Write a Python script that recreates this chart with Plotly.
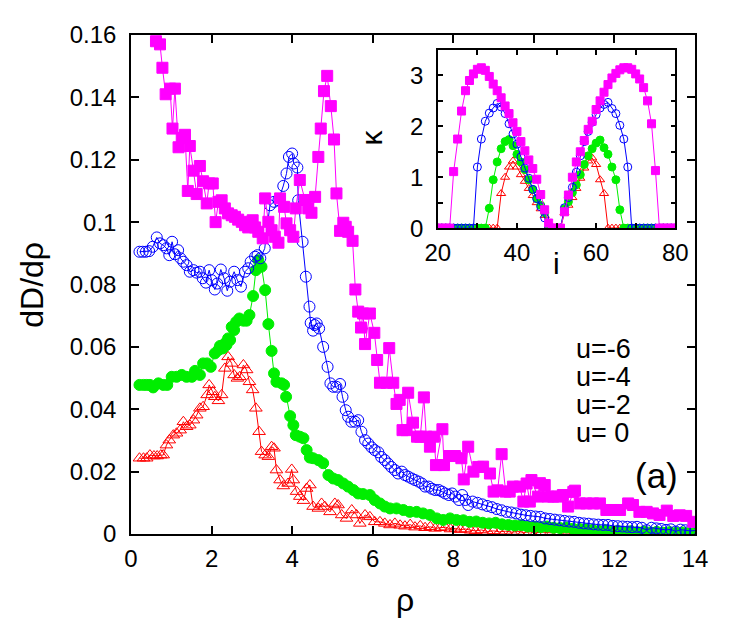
import plotly.graph_objects as go

# ------------------------------------------------------------
# main panel: dD/drho vs rho
# ------------------------------------------------------------
rho_u6 = [0.62, 0.72, 0.78, 0.86, 0.97, 1.03, 1.09, 1.18, 1.26, 1.34, 1.41, 1.46, 1.55, 1.63, 1.71,
          1.79, 1.88, 1.94, 2.03, 2.10, 2.17, 2.25, 2.33, 2.41, 2.50, 2.58, 2.66, 2.75, 2.83, 2.91,
          3.02, 3.08, 3.16, 3.27, 3.33, 3.41, 3.49, 3.57, 3.66, 3.70, 3.80, 3.86, 3.95, 4.03, 4.09,
          4.19, 4.32, 4.40, 4.48, 4.57, 4.65, 4.71, 4.79, 4.87, 4.96, 5.04, 5.10, 5.19, 5.27, 5.33,
          5.39, 5.50, 5.57, 5.64, 5.71, 5.76, 5.81, 5.93, 6.04, 6.11, 6.18, 6.34, 6.41, 6.51, 6.59,
          6.67, 6.74, 6.84, 6.88, 7.00, 7.10, 7.18, 7.27, 7.33, 7.42, 7.52, 7.57, 7.73, 7.77, 7.90,
          8.04, 8.20, 8.26, 8.37, 8.50, 8.62, 8.74, 8.91, 9.00, 9.10, 9.20, 9.30, 9.40, 9.48, 9.65,
          9.74, 9.82, 9.90, 9.94, 10.10, 10.15, 10.27, 10.35, 10.48, 10.60, 10.72, 10.85, 10.98, 11.02,
          11.14, 11.30, 11.47, 11.64, 11.80, 11.97, 12.14, 12.34, 12.46, 12.62, 12.80, 12.96, 13.12,
          13.30, 13.46, 13.62, 13.78, 13.96]
dD_u6 = [0.158, 0.157, 0.1495, 0.141, 0.1428, 0.130, 0.1428, 0.124, 0.127, 0.128, 0.110, 0.1244, 0.1165,
         0.109, 0.118, 0.1131, 0.106, 0.1124, 0.1124, 0.100, 0.1065, 0.107, 0.1044, 0.1028, 0.1022,
         0.1017, 0.1008, 0.1001, 0.0990, 0.0983, 0.1006, 0.0983, 0.0969, 0.0948, 0.1076, 0.1001, 0.0974,
         0.0953, 0.0934, 0.1076, 0.1049, 0.0996, 0.0974, 0.0953, 0.1044, 0.1135, 0.1071, 0.1044, 0.1030,
         0.1081, 0.1209, 0.130, 0.142, 0.1469, 0.1372, 0.1265, 0.1092, 0.0972, 0.0998, 0.0985, 0.0969,
         0.094, 0.0784, 0.0713, 0.0662, 0.0707, 0.0609, 0.0707, 0.0645, 0.0558, 0.0485, 0.0485, 0.0596,
         0.0485, 0.0417, 0.043, 0.0333, 0.0333, 0.0453, 0.0357, 0.0312, 0.0312, 0.0438, 0.0312, 0.028,
         0.0312, 0.0221, 0.0336, 0.0221, 0.025, 0.025, 0.0243, 0.0175, 0.028, 0.0200, 0.0215, 0.0216,
         0.0194, 0.0136, 0.0140, 0.0256, 0.0136, 0.0136, 0.0152, 0.0152, 0.0104, 0.0162, 0.0104, 0.0173,
         0.0120, 0.0163, 0.0157, 0.0120, 0.0120, 0.0120, 0.0125, 0.0088, 0.0135, 0.0139, 0.0098, 0.0098,
         0.0098, 0.0098, 0.0077, 0.0077, 0.0077, 0.0098, 0.0093, 0.0071, 0.0071, 0.0066, 0.0061, 0.0075,
         0.0058, 0.0060, 0.0058, 0.0039]

rho_u4 = [0.21, 0.29, 0.37, 0.45, 0.54, 0.64, 0.72, 0.80, 0.88, 0.95, 1.02, 1.09, 1.17, 1.23, 1.30,
          1.38, 1.46, 1.55, 1.63, 1.71, 1.78, 1.86, 1.94, 2.00, 2.08, 2.14, 2.23, 2.31, 2.39, 2.46,
          2.56, 2.64, 2.73, 2.83, 2.91, 2.97, 3.08, 3.14, 3.21, 3.32, 3.37, 3.45, 3.55, 3.66, 3.78,
          3.86, 3.92, 4.00, 4.04, 4.13, 4.15, 4.26, 4.34, 4.43, 4.46, 4.52, 4.56, 4.61, 4.67, 4.77,
          4.88, 4.95, 5.02, 5.10, 5.19, 5.25, 5.33, 5.39, 5.47, 5.56, 5.64, 5.72, 5.81, 5.89, 5.97,
          6.05, 6.14, 6.21, 6.30, 6.38, 6.46, 6.55, 6.63, 6.72, 6.80, 6.88, 6.97, 7.05, 7.14, 7.22,
          7.30, 7.39, 7.47, 7.55, 7.64, 7.72, 7.80, 7.89, 7.97, 8.05, 8.14, 8.22, 8.30, 8.37, 8.48,
          8.60, 8.72, 8.84, 8.96, 9.08, 9.20, 9.32, 9.44, 9.56, 9.68, 9.80, 9.92, 10.04, 10.16, 10.28,
          10.40, 10.52, 10.64, 10.76, 10.88, 11.00, 11.12, 11.24, 11.36, 11.48, 11.60, 11.72, 11.84,
          11.96, 12.08, 12.20, 12.32, 12.44, 12.56, 12.68, 12.80, 12.92, 13.04, 13.16, 13.28, 13.40,
          13.52, 13.64, 13.76, 13.88, 14.00]
dD_u4 = [0.0905, 0.0905, 0.0905, 0.0907, 0.0921, 0.0951, 0.0932, 0.0926, 0.0916, 0.0894, 0.0937, 0.0897,
         0.0910, 0.0884, 0.0873, 0.0862, 0.0841, 0.0846, 0.0838, 0.0841, 0.0820, 0.0806, 0.0846, 0.0814,
         0.0784, 0.0803, 0.0848, 0.0820, 0.0780, 0.0809, 0.0841, 0.0814, 0.0793, 0.0841, 0.0852, 0.0873,
         0.0889, 0.0894, 0.0884, 0.0916, 0.0974, 0.1054, 0.1065, 0.1070, 0.1116, 0.1156, 0.1209, 0.1220,
         0.1188, 0.1175, 0.1070, 0.0937, 0.0825, 0.0729, 0.0677, 0.0652, 0.0670, 0.0675, 0.0659, 0.0600,
         0.0536, 0.0483, 0.0472, 0.0472, 0.0481, 0.0440, 0.0397, 0.0376, 0.0360, 0.0360, 0.0365, 0.0328,
         0.0301, 0.0290, 0.0278, 0.0269, 0.0262, 0.0247, 0.0237, 0.0226, 0.0215, 0.0205, 0.0194, 0.0200,
         0.0189, 0.0184, 0.0178, 0.0173, 0.0168, 0.0162, 0.0152, 0.0152, 0.0145, 0.0141, 0.0141, 0.0136,
         0.0130, 0.0125, 0.0130, 0.0120, 0.0109, 0.0125, 0.0109, 0.0093, 0.0104, 0.0100, 0.0095, 0.0090,
         0.0086, 0.0080, 0.0076, 0.0071, 0.0069, 0.0066, 0.0062, 0.0060, 0.0058, 0.0056, 0.0055, 0.0050,
         0.0048, 0.0046, 0.0044, 0.0042, 0.0040, 0.0039, 0.0036, 0.0034, 0.0033, 0.0031, 0.0030, 0.0029,
         0.0029, 0.0026, 0.0025, 0.0024, 0.0023, 0.0022, 0.0023, 0.0020, 0.0012, 0.0020, 0.0018, 0.0016,
         0.0013, 0.0015, 0.0008, 0.0014, 0.0012, 0.0010, 0.0011]

rho_u2 = [0.21, 0.31, 0.39, 0.47, 0.55, 0.68, 0.80, 0.90, 1.01, 1.13, 1.26, 1.38, 1.51, 1.59, 1.71,
          1.79, 1.89, 1.98, 2.08, 2.17, 2.21, 2.28, 2.33, 2.37, 2.41, 2.46, 2.50, 2.56, 2.61, 2.69,
          2.79, 2.87, 2.94, 3.03, 3.10, 3.16, 3.24, 3.33, 3.41, 3.49, 3.55, 3.61, 3.74, 3.80, 3.85,
          3.95, 4.03, 4.09, 4.19, 4.28, 4.36, 4.44, 4.52, 4.65, 4.77, 4.90, 5.02, 5.14, 5.27, 5.39,
          5.52, 5.64, 5.76, 5.93, 6.05, 6.18, 6.30, 6.43, 6.59, 6.76, 6.92, 7.09, 7.25, 7.42, 7.59,
          7.75, 7.92, 8.08, 8.25, 8.41, 8.57, 8.73, 8.89, 9.05, 9.21, 9.37, 9.53, 9.69, 9.85, 10.01,
          10.17, 10.33, 10.49, 10.65, 10.81, 10.97, 11.13, 11.29, 11.45, 11.61, 11.77, 11.93, 12.09,
          12.25, 12.41, 12.57, 12.73, 12.89, 13.05, 13.21, 13.37, 13.53, 13.69, 13.85, 14.00]
dD_u2 = [0.0478, 0.0478, 0.0478, 0.0478, 0.0470, 0.0483, 0.0478, 0.0478, 0.0504, 0.0504, 0.0510, 0.0504,
         0.0504, 0.0523, 0.0510, 0.0547, 0.0547, 0.0536, 0.0579, 0.0590, 0.0603, 0.0595, 0.0611, 0.0606,
         0.0627, 0.0622, 0.0664, 0.0654, 0.0680, 0.0691, 0.0684, 0.0684, 0.0702, 0.0763, 0.0846, 0.0878,
         0.0857, 0.0782, 0.0673, 0.0587, 0.0515, 0.0488, 0.0483, 0.0478, 0.0440, 0.0378, 0.0349, 0.0317,
         0.0312, 0.0307, 0.0269, 0.0245, 0.0243, 0.0237, 0.0227, 0.0189, 0.0178, 0.0173, 0.0162, 0.0152,
         0.0141, 0.0130, 0.0128, 0.0125, 0.0109, 0.0098, 0.0088, 0.0082, 0.0082, 0.0077, 0.0071, 0.0071,
         0.0066, 0.0061, 0.0050, 0.0045, 0.0050, 0.0045, 0.0044, 0.0039, 0.0040, 0.0036, 0.0034, 0.0036,
         0.0031, 0.0029, 0.0027, 0.0028, 0.0024, 0.0023, 0.0022, 0.0024, 0.0020, 0.0019, 0.0021, 0.0017,
         0.0016, 0.0015, 0.0013, 0.0010, 0.0012, 0.0008, 0.0010, 0.0007, 0.0009, 0.0006, 0.0008, 0.0005,
         0.0007, 0.0004, 0.0006, 0.0004, 0.0005, 0.0003, 0.0004]

rho_u0 = [0.21, 0.31, 0.39, 0.47, 0.57, 0.65, 0.74, 0.80, 0.88, 0.95, 1.05, 1.13, 1.22, 1.30, 1.38,
          1.46, 1.55, 1.63, 1.71, 1.79, 1.89, 1.94, 2.03, 2.08, 2.17, 2.25, 2.33, 2.41, 2.50, 2.56,
          2.64, 2.70, 2.79, 2.87, 2.94, 3.02, 3.10, 3.18, 3.24, 3.33, 3.41, 3.49, 3.55, 3.61, 3.70,
          3.78, 3.90, 3.99, 4.03, 4.11, 4.19, 4.28, 4.36, 4.44, 4.52, 4.65, 4.73, 4.81, 4.94, 5.06,
          5.14, 5.23, 5.35, 5.48, 5.60, 5.68, 5.81, 5.93, 6.05, 6.18, 6.30, 6.43, 6.55, 6.68, 6.80,
          6.93, 7.05, 7.18, 7.30, 7.43, 7.55, 7.68, 7.80, 7.93, 8.05, 8.18, 8.30, 8.43, 8.55, 8.70,
          8.85, 9.00, 9.15, 9.30, 9.45, 9.60, 9.75, 9.90, 10.05, 10.20, 10.40, 10.60, 10.80, 11.00,
          11.20, 11.40, 11.60, 11.80, 12.00, 12.20, 12.40, 12.60, 12.80, 13.00, 13.20, 13.40, 13.60,
          13.80, 14.00]
dD_u0 = [0.0243, 0.0243, 0.0243, 0.0253, 0.0250, 0.0250, 0.0253, 0.0253, 0.0285, 0.0301, 0.0317, 0.0323,
         0.0333, 0.0360, 0.0344, 0.0349, 0.0365, 0.0381, 0.0403, 0.0408, 0.0446, 0.0478, 0.0456, 0.0440,
         0.0427, 0.0446, 0.0531, 0.0568, 0.0547, 0.0510, 0.0499, 0.0504, 0.0542, 0.0526, 0.0488, 0.0462,
         0.0403, 0.0328, 0.0264, 0.0253, 0.0248, 0.0280, 0.0275, 0.0205, 0.0173, 0.0154, 0.0162, 0.0207,
         0.0173, 0.0136, 0.0120, 0.0107, 0.0146, 0.0157, 0.0088, 0.0082, 0.0098, 0.0088, 0.0071, 0.0098,
         0.0093, 0.0061, 0.0050, 0.0077, 0.0061, 0.0034, 0.0061, 0.0055, 0.0039, 0.0039, 0.0034, 0.0029,
         0.0034, 0.0028, 0.0025, 0.0030, 0.0022, 0.0026, 0.0020, 0.0023, 0.0018, 0.0020, 0.0022, 0.0016,
         0.0018, 0.0014, 0.0016, 0.0012, 0.0010, 0.0013, 0.0008, 0.0010, 0.0007, 0.0009, 0.0006, 0.0008,
         0.0005, 0.0007, 0.0004, 0.0006, 0.0004, 0.0005, 0.0003, 0.0004, 0.0003, 0.0004, 0.0002, 0.0003,
         0.0002, 0.0003, 0.0002, 0.0003, 0.0002, 0.0002, 0.0003, 0.0002, 0.0002, 0.0001, 0.0002]

# ------------------------------------------------------------
# inset: kappa vs site i
# ------------------------------------------------------------
site_i = [20, 21, 22, 23, 24, 25, 26, 27, 28, 29, 30, 31, 32, 33, 34, 35, 36, 37, 38, 39, 40,
          41, 42, 43, 44, 45, 46, 47, 48, 49, 50, 51, 52, 53, 54, 55, 56, 57, 58, 59, 60,
          61, 62, 63, 64, 65, 66, 67, 68, 69, 70, 71, 72, 73, 74, 75, 76, 77, 78, 79, 80]
kappa_u6 = [0, 0, 0, 0, 1.11, 1.75, 2.3, 2.7, 2.9, 3.03, 3.12, 3.15, 3.1, 2.98, 2.83, 2.7, 2.56, 2.4,
            2.25, 2.07, 1.9, 1.7, 1.52, 1.34, 1.17, 0.96, 0.66, 0.36, 0.1, 0, 0, 0, 0.32, 0.65, 1.0,
            1.3, 1.5, 1.72, 1.94, 2.1, 2.33, 2.5, 2.67, 2.82, 2.95, 3.04, 3.11, 3.15, 3.15, 3.12, 3.03,
            2.93, 2.76, 2.5, 2.05, 1.13, 0, 0, 0, 0, 0]
kappa_u4 = [0, 0, 0, 0, 0, 0, 0, 0, 0, 0, 1.2, 1.75, 2.1, 2.26, 2.36, 2.45, 2.38, 2.25, 2.05, 1.85,
            1.65, 1.4, 1.18, 0.98, 0.76, 0.58, 0.42, 0.2, 0, 0, 0, 0, 0.4, 0.6, 0.8, 1.1, 1.42, 1.7,
            1.9, 2.08, 2.23, 2.36, 2.43, 2.47, 2.35, 2.25, 2.02, 1.75, 1.2, 0, 0, 0, 0, 0, 0, 0, 0,
            0, 0, 0, 0]
kappa_u2 = [0, 0, 0, 0, 0, 0, 0, 0, 0, 0, 0, 0, 0, 0.39, 0.95, 1.3, 1.56, 1.7, 1.74, 1.62, 1.45,
            1.3, 1.15, 0.95, 0.76, 0.58, 0.45, 0.3, 0, 0, 0, 0, 0.38, 0.52, 0.7, 0.85, 1.05, 1.25,
            1.42, 1.56, 1.67, 1.73, 1.58, 1.45, 1.2, 0.95, 0.36, 0, 0, 0, 0, 0, 0, 0, 0, 0, 0, 0,
            0, 0, 0]
kappa_u0 = [0, 0, 0, 0, 0, 0, 0, 0, 0, 0, 0, 0, 0, 0, 0, 0, 0.68, 1.0, 1.2, 1.32, 1.2, 1.05, 0.92,
            0.78, 0.64, 0.5, 0.38, 0.25, 0, 0, 0, 0, 0.3, 0.45, 0.6, 0.78, 0.98, 1.18, 1.32, 1.38,
            1.25, 0.95, 0.68, 0, 0, 0, 0, 0, 0, 0, 0, 0, 0, 0, 0, 0, 0, 0, 0, 0, 0]

legend_labels = ["u=-6", "u=-4", "u=-2", "u= 0"]
main_xticks = [0, 2, 4, 6, 8, 10, 12, 14]
main_yticks = [0, 0.02, 0.04, 0.06, 0.08, 0.1, 0.12, 0.14, 0.16]
inset_xticks = [20, 30, 40, 50, 60, 70, 80]
inset_xtext = ["20", "", "40", "", "60", "", "80"]
inset_yticks = [0, 0.5, 1, 1.5, 2, 2.5, 3, 3.5]
inset_ytext = ["0", "", "1", "", "2", "", "3", ""]

FONT = "Liberation Sans, Arial, Helvetica, sans-serif"

# bottom -> top: red, green, blue, magenta
series = [
    (rho_u0, dD_u0, kappa_u0, "#ff0000", "triangle-up-open"),
    (rho_u2, dD_u2, kappa_u2, "#00ee00", "circle"),
    (rho_u4, dD_u4, kappa_u4, "#0000ff", "circle-open"),
    (rho_u6, dD_u6, kappa_u6, "#ff00ff", "square"),
]

fig = go.Figure()

for rho, dd, kap, col, sym in series:
    fig.add_trace(go.Scatter(
        x=rho, y=dd, mode="lines+markers",
        line=dict(color=col, width=1),
        marker=dict(symbol=sym, size=11, color=col, line=dict(color=col, width=1)),
        showlegend=False,
    ))

for rho, dd, kap, col, sym in series:
    fig.add_trace(go.Scatter(
        x=site_i, y=kap, mode="lines+markers",
        xaxis="x2", yaxis="y2",
        line=dict(color=col, width=1),
        marker=dict(symbol=sym, size=8, color=col, line=dict(color=col, width=1)),
        showlegend=False,
    ))

axis_common = dict(
    showline=True, linecolor="black", linewidth=1.5, mirror="allticks",
    ticks="inside", tickcolor="black", tickwidth=1.5,
    showgrid=False, zeroline=False,
    tickfont=dict(family=FONT, size=24, color="black"),
)

# the page body adds an 8px offset, so the figure is 8px smaller and shifted margins
fig.update_layout(
    width=739, height=633,
    margin=dict(l=123, r=52, t=27, b=107),
    paper_bgcolor="white", plot_bgcolor="white",
    showlegend=False,
    xaxis=dict(range=[0, 14], tickvals=main_xticks, ticklen=8, domain=[0, 1],
               ticklabelstandoff=2, **axis_common),
    yaxis=dict(range=[0, 0.16], tickvals=main_yticks, ticklen=8,
               ticklabelstandoff=8, **axis_common),
    xaxis2=dict(range=[20, 80], tickvals=inset_xticks, ticktext=inset_xtext, ticklen=5,
                domain=[0.544, 0.965], anchor="y2", ticklabelstandoff=2, **axis_common),
    yaxis2=dict(range=[0, 3.5], tickvals=inset_yticks, ticktext=inset_ytext, ticklen=5,
                domain=[0.613, 0.970], anchor="x2", ticklabelstandoff=8, **axis_common),
)

annotations = [
    dict(text="ρ", x=0.486, y=-0.132, font=dict(size=32)),
    dict(text="dD/dρ", x=-0.176, y=0.499, textangle=-90, font=dict(size=32)),
    dict(text="κ", x=0.427, y=0.794, textangle=-90, font=dict(size=30)),
    dict(text="i", x=0.754, y=0.543, font=dict(size=30)),
    dict(text="(a)", x=0.931, y=0.118, font=dict(size=35)),
]
for k, lab in enumerate(legend_labels):
    annotations.append(dict(text=lab, x=0.785, y=0.371 - k * 0.056, xanchor="left", font=dict(size=27)))

for a in annotations:
    a.setdefault("xanchor", "center")
    a.update(xref="paper", yref="paper", yanchor="middle", showarrow=False)
    a["font"].update(family=FONT, color="black")
fig.update_layout(annotations=annotations)

fig.write_html("out.html")
